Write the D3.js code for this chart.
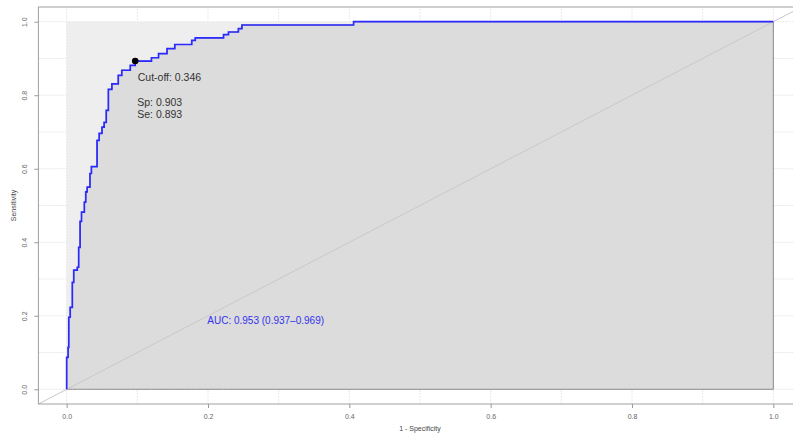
<!DOCTYPE html>
<html>
<head>
<meta charset="utf-8">
<script src="https://cdn.jsdelivr.net/npm/d3@7"></script>
<style>
  body { margin: 0; background: #fff; }
  svg { display: block; font-family: "Liberation Sans", Arial, sans-serif; }
</style>
</head>
<body>
<script>
// ROC corner points (1 - specificity, sensitivity)
var fpr = [0, 0.002, 0.003, 0.005, 0.008, 0.010, 0.015, 0.017, 0.019, 0.021,
           0.025, 0.027, 0.029, 0.033, 0.035, 0.043, 0.046, 0.050, 0.053, 0.056,
           0.059, 0.064, 0.073, 0.078, 0.090, 0.097, 0.120, 0.130, 0.142, 0.153,
           0.177, 0.182, 0.222, 0.229, 0.243, 0.248, 0.406, 1];
var tpr = [0, 0.087, 0.114, 0.196, 0.223, 0.291, 0.324, 0.332, 0.386, 0.457,
           0.482, 0.509, 0.537, 0.550, 0.587, 0.606, 0.677, 0.696, 0.713, 0.726,
           0.759, 0.816, 0.831, 0.854, 0.868, 0.881, 0.893, 0.902, 0.913, 0.927,
           0.938, 0.949, 0.956, 0.965, 0.972, 0.981, 0.991, 1];

var cutoff = { value: 0.346, sp: 0.903, se: 0.893 };
var auc = { value: 0.953, lo: 0.937, hi: 0.969 };

var ticks = [0, 0.2, 0.4, 0.6, 0.8, 1.0];
var gridVals = d3.range(0, 11).map(function(i) { return i / 10; });

var w = 793, h = 435;

var x = d3.scaleLinear().domain([-0.04, 1.04]).range([38.4, 801.6]);
var y = d3.scaleLinear().domain([-0.04, 1.04]).range([404, 7]);

var svg = d3.select("body").append("svg")
    .attr("width", w)
    .attr("height", h);

svg.append("clipPath").attr("id", "plotclip")
  .append("rect")
    .attr("x", x(-0.04)).attr("y", y(1.04))
    .attr("width", x(1.04) - x(-0.04))
    .attr("height", y(-0.04) - y(1.04));

var plot = svg.append("g").attr("clip-path", "url(#plotclip)");

// grid
plot.selectAll("line.gx")
    .data(gridVals)
  .enter().append("line")
    .attr("class", "gx")
    .attr("x1", function(d) { return x(d); })
    .attr("x2", function(d) { return x(d); })
    .attr("y1", y(-0.04)).attr("y2", y(1.04))
    .attr("stroke", "#e8e8e8")
    .attr("stroke-dasharray", "2,1");

plot.selectAll("line.gy")
    .data(gridVals)
  .enter().append("line")
    .attr("class", "gy")
    .attr("y1", function(d) { return y(d); })
    .attr("y2", function(d) { return y(d); })
    .attr("x1", x(-0.04)).attr("x2", x(1.04))
    .attr("stroke", "#e8e8e8")
    .attr("stroke-dasharray", "2,1");

// max auc square
plot.append("rect")
    .attr("x", x(0)).attr("y", y(1))
    .attr("width", x(1) - x(0))
    .attr("height", y(0) - y(1))
    .attr("fill", "#eeeeee");

var pts = fpr.map(function(d, i) { return [d, tpr[i]]; });

// area under curve
var area = d3.area()
    .curve(d3.curveStepBefore)
    .x(function(d) { return x(d[0]); })
    .y0(y(0))
    .y1(function(d) { return y(d[1]); });

plot.append("path")
    .datum(pts)
    .attr("d", area)
    .attr("fill", "#dcdcdc")
    .attr("stroke", "#8a8a8a")
    .attr("stroke-width", 1);

// chance diagonal
plot.append("line")
    .attr("x1", x(-0.04)).attr("y1", y(-0.04))
    .attr("x2", x(1.04)).attr("y2", y(1.04))
    .attr("stroke", "#c8c8c8")
    .attr("stroke-width", 1);

// roc curve
var line = d3.line()
    .curve(d3.curveStepBefore)
    .x(function(d) { return x(d[0]); })
    .y(function(d) { return y(d[1]); });

plot.append("path")
    .datum(pts)
    .attr("d", line)
    .attr("fill", "none")
    .attr("stroke", "#2a2aff")
    .attr("stroke-width", 1.7);

// best threshold
plot.append("circle")
    .attr("cx", x(1 - cutoff.sp))
    .attr("cy", y(cutoff.se))
    .attr("r", 3.3)
    .attr("fill", "#000");

var lab = svg.append("g")
    .attr("font-size", "10.5px")
    .attr("fill", "#333");

lab.append("text")
    .attr("x", x(1 - cutoff.sp) + 2.5)
    .attr("y", y(cutoff.se) + 19.5)
    .text("Cut-off: " + cutoff.value.toFixed(3));

lab.append("text")
    .attr("x", x(1 - cutoff.sp) + 2)
    .attr("y", y(cutoff.se) + 44.5)
    .text("Sp: " + cutoff.sp.toFixed(3));

lab.append("text")
    .attr("x", x(1 - cutoff.sp) + 2)
    .attr("y", y(cutoff.se) + 57)
    .text("Se: " + cutoff.se.toFixed(3));

svg.append("text")
    .attr("x", x(0.199))
    .attr("y", y(0.178))
    .attr("font-size", "10px")
    .attr("fill", "#3333ee")
    .text("AUC: " + auc.value.toFixed(3) + " (" + auc.lo.toFixed(3) + "\u2013" + auc.hi.toFixed(3) + ")");

// axes
var xAxis = d3.axisBottom(x)
    .tickValues(ticks)
    .tickSize(4)
    .tickPadding(6)
    .tickFormat(d3.format(".1f"));

var gx = svg.append("g")
    .attr("transform", "translate(0," + y(-0.04) + ")")
    .call(xAxis);

var yAxis = d3.axisLeft(y)
    .tickValues(ticks)
    .tickSize(4)
    .tickFormat(d3.format(".1f"));

var gy = svg.append("g")
    .attr("transform", "translate(" + x(-0.04) + ",0)")
    .call(yAxis);

gy.selectAll(".tick text")
    .attr("x", null).attr("dy", null)
    .attr("text-anchor", "middle")
    .attr("transform", "translate(-11,0) rotate(-90)");

[gx, gy].forEach(function(g) {
  g.select(".domain").remove();
  g.selectAll(".tick line").attr("stroke", "#999");
  g.selectAll(".tick text")
      .attr("fill", "#666")
      .attr("font-size", "7px")
      .attr("font-family", "\"Liberation Sans\", Arial, sans-serif");
});

// frame
svg.append("rect")
    .attr("x", x(-0.04)).attr("y", y(1.04))
    .attr("width", x(1.04) - x(-0.04))
    .attr("height", y(-0.04) - y(1.04))
    .attr("fill", "none")
    .attr("stroke", "#a0a0a0")
    .attr("stroke-width", 1);

// axis titles
svg.append("text")
    .attr("x", (x(-0.04) + x(1.04)) / 2)
    .attr("y", 431)
    .attr("text-anchor", "middle")
    .attr("font-size", "7px")
    .attr("fill", "#444")
    .text("1 - Specificity");

svg.append("text")
    .attr("transform", "translate(16," + (y(-0.04) + y(1.04)) / 2 + ") rotate(-90)")
    .attr("text-anchor", "middle")
    .attr("font-size", "7px")
    .attr("fill", "#444")
    .text("Sensitivity");
</script>
</body>
</html>
